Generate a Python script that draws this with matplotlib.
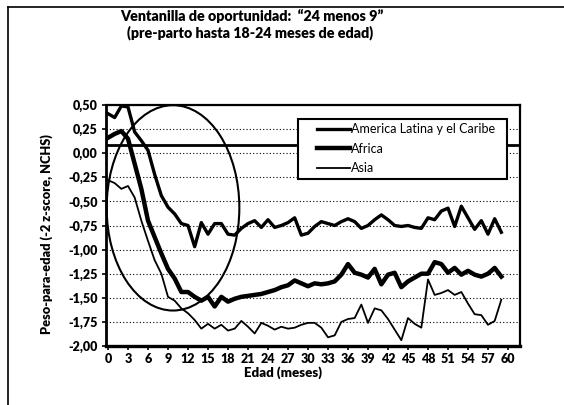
import matplotlib
matplotlib.use("Agg")
import matplotlib.pyplot as plt
from matplotlib.patches import Ellipse, Rectangle
from matplotlib.lines import Line2D
import numpy as np

# edad en meses (0..59)
meses = list(range(60))

latam = [0.41, 0.37, 0.49, 0.48, 0.22, 0.13, 0.03, -0.22, -0.44, -0.56,
         -0.63, -0.73, -0.75, -0.97, -0.72, -0.84, -0.73, -0.73, -0.84, -0.85,
         -0.78, -0.73, -0.70, -0.77, -0.69, -0.77, -0.75, -0.72, -0.67, -0.85,
         -0.83, -0.76, -0.71, -0.73, -0.75, -0.71, -0.68, -0.71, -0.78, -0.75,
         -0.69, -0.64, -0.69, -0.75, -0.76, -0.75, -0.77, -0.78, -0.67, -0.69,
         -0.60, -0.57, -0.76, -0.55, -0.67, -0.79, -0.70, -0.84, -0.68, -0.82]

africa = [0.16, 0.20, 0.23, 0.15, -0.11, -0.37, -0.70, -0.87, -1.04, -1.20,
          -1.30, -1.44, -1.44, -1.49, -1.53, -1.49, -1.59, -1.49, -1.54, -1.51,
          -1.49, -1.48, -1.47, -1.46, -1.44, -1.42, -1.39, -1.37, -1.32, -1.35,
          -1.38, -1.35, -1.36, -1.35, -1.33, -1.26, -1.15, -1.24, -1.26, -1.29,
          -1.20, -1.36, -1.26, -1.24, -1.39, -1.33, -1.29, -1.25, -1.25, -1.13,
          -1.15, -1.24, -1.19, -1.26, -1.22, -1.26, -1.28, -1.25, -1.19, -1.28]

asia = [-0.28, -0.31, -0.37, -0.34, -0.46, -0.70, -0.91, -1.11, -1.25, -1.49,
        -1.53, -1.61, -1.66, -1.73, -1.82, -1.77, -1.82, -1.78, -1.84, -1.82,
        -1.74, -1.80, -1.87, -1.76, -1.79, -1.83, -1.80, -1.82, -1.81, -1.78,
        -1.76, -1.76, -1.81, -1.91, -1.89, -1.75, -1.72, -1.71, -1.57, -1.76,
        -1.61, -1.63, -1.72, -1.83, -1.94, -1.71, -1.77, -1.81, -1.31, -1.47,
        -1.45, -1.42, -1.47, -1.44, -1.56, -1.67, -1.68, -1.78, -1.74, -1.52]

linea_ref = 0.085
yticks = [0.50, 0.25, 0.00, -0.25, -0.50, -0.75, -1.00, -1.25, -1.50, -1.75, -2.00]
xticks = list(range(0, 61, 3))

FONT = "Lato"
HEAVY = "heavy"

fig = plt.figure(figsize=(5.64, 4.05), dpi=100)
ax = fig.add_axes([106 / 564, 1 - 346 / 405, 414 / 564, 241 / 405])

ax.set_xlim(-0.3, 61.8)
ax.set_ylim(-2.0, 0.5)

ax.set_yticks(yticks)
ax.set_yticklabels([f"{v:.2f}".replace(".", ",") for v in yticks],
                   fontfamily=FONT, fontweight=HEAVY, fontsize=9)
ax.set_xticks(xticks)
ax.set_xticklabels([str(t) for t in xticks], fontfamily=FONT,
                   fontweight=HEAVY, fontsize=9)
ax.tick_params(axis="both", direction="out", length=3, width=1.2, colors="black")
ax.tick_params(axis="x", pad=2)
ax.tick_params(axis="y", pad=3)

ax.grid(True, axis="y", color="black", linestyle=(0, (1, 2)), linewidth=0.8)
ax.set_axisbelow(True)

for s in ax.spines.values():
    s.set_linewidth(1.6)
ax.spines["bottom"].set_linewidth(2.4)
ax.spines["left"].set_linewidth(2.0)

ax.axhline(linea_ref, color="black", linewidth=2, zorder=2.5)

l1, = ax.plot(meses, latam, color="black", linewidth=2.4, zorder=3,
              label="America Latina y el Caribe")
l2, = ax.plot(meses, africa, color="black", linewidth=3.2, zorder=3,
              label="Africa")
l3, = ax.plot(meses, asia, color="black", linewidth=1.3, zorder=3,
              label="Asia")

ax.add_patch(Ellipse((9.75, -0.567), 19.9, 2.13, fill=False,
                     edgecolor="black", linewidth=1.5, zorder=3.5,
                     clip_on=False))

# caja de la leyenda
ax.add_patch(Rectangle((0.464, 0.693), 0.505, 0.249, transform=ax.transAxes,
                       facecolor="white", edgecolor="black", linewidth=1.5,
                       zorder=4))
leg = ax.legend(handles=[l1, l2, l3], loc="upper left",
                bbox_to_anchor=(0.5097, 0.925), frameon=False,
                borderpad=0, borderaxespad=0, handlelength=2.6,
                handletextpad=0.1, labelspacing=0.6,
                prop={"family": FONT, "size": 9})
leg.set_zorder(5)

# titulos
fig.text(252 / 564, 1 - 16 / 405, "Ventanilla de oportunidad:  \u201c24 menos 9\u201d",
         ha="center", va="center", fontfamily=FONT, fontweight=HEAVY,
         fontsize=10.3)
fig.text(250 / 564, 1 - 33 / 405, "(pre-parto hasta 18-24 meses de edad)",
         ha="center", va="center", fontfamily=FONT, fontweight=HEAVY,
         fontsize=10.3)

fig.text(283 / 564, 1 - 373 / 405, "Edad (meses)", ha="center", va="center",
         fontfamily=FONT, fontweight=HEAVY, fontsize=9.5)
fig.text(47 / 564, 1 - 234 / 405, "Peso-para-edad (-2 z-score, NCHS)",
         ha="center", va="center", rotation=90, fontfamily=FONT,
         fontweight=HEAVY, fontsize=9.2)

# marco de la figura
fig.add_artist(Line2D([8 / 564, 8 / 564], [1 - 7 / 405, 0],
                      transform=fig.transFigure, color="black", linewidth=1.2))
fig.add_artist(Line2D([8 / 564, 1], [1 - 7 / 405, 1 - 7 / 405],
                      transform=fig.transFigure, color="black", linewidth=1.2))

plt.savefig("out.png", dpi=100)
